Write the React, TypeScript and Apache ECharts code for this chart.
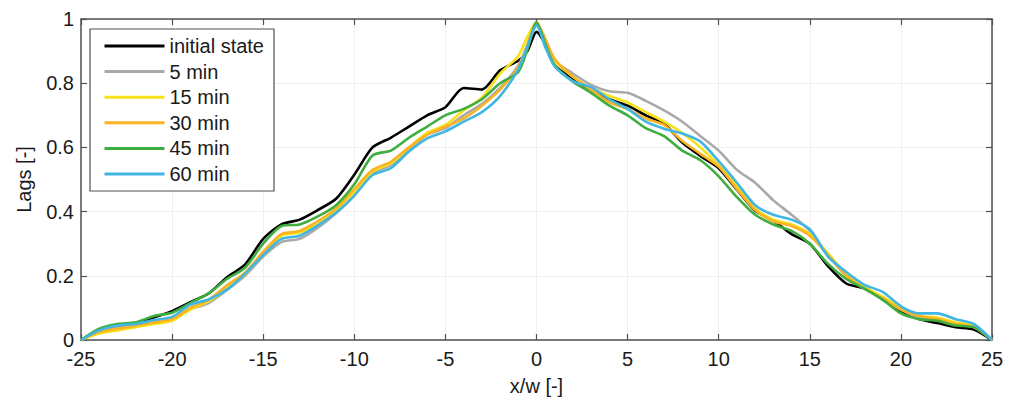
import React, { useEffect, useRef } from "react";
import * as echarts from "echarts";

const xValues = [
  -25, -24, -23, -22, -21, -20, -19, -18, -17, -16, -15, -14, -13, -12, -11, -10, -9, -8, -7, -6, -5, -4, -3, -2, -1,
  -0.5, 0, 0.5,
  1, 2, 3, 4, 5, 6, 7, 8, 9, 10, 11, 12, 13, 14, 15, 16, 17, 18, 19, 20, 21, 22, 23, 24, 25,
];

const initialState = [
  0, 0.03, 0.045, 0.05, 0.07, 0.09, 0.118, 0.145, 0.195, 0.235, 0.315, 0.36, 0.375, 0.405, 0.44, 0.515, 0.6, 0.63, 0.665, 0.7, 0.725, 0.785, 0.78, 0.84, 0.87,
  0.9, 0.96, 0.92,
  0.855, 0.815, 0.78, 0.75, 0.73, 0.7, 0.674, 0.615, 0.573, 0.535, 0.468, 0.403, 0.372, 0.33, 0.3, 0.23, 0.176, 0.16, 0.126, 0.09, 0.065, 0.053, 0.04, 0.033, 0,
];
const min5 = [
  0, 0.025, 0.04, 0.045, 0.055, 0.065, 0.095, 0.115, 0.155, 0.2, 0.26, 0.305, 0.315, 0.35, 0.395, 0.45, 0.52, 0.545, 0.595, 0.64, 0.66, 0.7, 0.735, 0.785, 0.855,
  0.92, 0.99, 0.935,
  0.87, 0.83, 0.795, 0.775, 0.77, 0.745, 0.715, 0.68, 0.635, 0.59, 0.53, 0.49, 0.435, 0.39, 0.34, 0.265, 0.2, 0.16, 0.13, 0.095, 0.07, 0.065, 0.05, 0.04, 0,
];
const min15 = [
  0, 0.02, 0.03, 0.04, 0.05, 0.06, 0.095, 0.12, 0.16, 0.205, 0.27, 0.325, 0.335, 0.36, 0.405, 0.46, 0.525, 0.55, 0.6, 0.645, 0.67, 0.715, 0.755, 0.83, 0.885,
  0.945, 0.99, 0.93,
  0.87, 0.82, 0.785, 0.76, 0.74, 0.71, 0.68, 0.645, 0.6, 0.545, 0.48, 0.41, 0.375, 0.36, 0.33, 0.27, 0.205, 0.165, 0.135, 0.1, 0.075, 0.07, 0.055, 0.045, 0,
];
const min30 = [
  0, 0.025, 0.035, 0.045, 0.055, 0.065, 0.1, 0.125, 0.17, 0.21, 0.275, 0.33, 0.34, 0.37, 0.41, 0.47, 0.53, 0.555, 0.6, 0.64, 0.665, 0.69, 0.73, 0.78, 0.85,
  0.92, 0.99, 0.935,
  0.875, 0.82, 0.78, 0.74, 0.72, 0.69, 0.67, 0.62, 0.58, 0.54, 0.47, 0.405, 0.37, 0.355, 0.325, 0.265, 0.2, 0.16, 0.13, 0.095, 0.075, 0.065, 0.05, 0.04, 0,
];
const min45 = [
  0, 0.035, 0.05, 0.055, 0.075, 0.085, 0.115, 0.145, 0.19, 0.225, 0.3, 0.355, 0.36, 0.385, 0.42, 0.485, 0.575, 0.59, 0.63, 0.665, 0.7, 0.72, 0.75, 0.8, 0.835,
  0.905, 0.99, 0.92,
  0.855, 0.805, 0.77, 0.73, 0.7, 0.66, 0.635, 0.59, 0.56, 0.51, 0.445, 0.39, 0.36, 0.34, 0.3, 0.237, 0.19, 0.16, 0.126, 0.083, 0.065, 0.06, 0.045, 0.04, 0,
];
const min60 = [
  0, 0.03, 0.045, 0.05, 0.062, 0.072, 0.11, 0.126, 0.157, 0.206, 0.265, 0.315, 0.325, 0.357, 0.397, 0.45, 0.514, 0.535, 0.587, 0.628, 0.65, 0.68, 0.71, 0.76, 0.843,
  0.914, 0.98, 0.91,
  0.852, 0.806, 0.788, 0.75, 0.72, 0.68, 0.658, 0.643, 0.618, 0.557, 0.49, 0.42, 0.39, 0.375, 0.345, 0.26, 0.212, 0.172, 0.15, 0.105, 0.083, 0.083, 0.065, 0.05, 0,
];

const seriesNames = ["initial state", "5 min", "15 min", "30 min", "45 min", "60 min"];
const seriesValues = [initialState, min5, min15, min30, min45, min60];
const seriesColors = ["#000000", "#a9a9a9", "#f7e11a", "#fbb323", "#3fae3f", "#41b6e2"];

const FONT = "'Liberation Sans', Arial, sans-serif";
const AXIS_COLOR = "#505050";
const TEXT_COLOR = "#1a1a1a";

export default function App() {
  const ref = useRef<HTMLDivElement>(null);

  useEffect(() => {
    if (!ref.current) return;
    const chart = echarts.init(ref.current, undefined, { renderer: "svg" });

    const series = seriesNames.map((name, i) => ({
      name,
      type: "line",
      xAxisIndex: 0,
      yAxisIndex: 0,
      data: xValues.map((x, k) => [x, seriesValues[i][k]]),
      symbol: "none",
      smooth: 0.25,
      lineStyle: { color: seriesColors[i], width: 2.6 },
      itemStyle: { color: seriesColors[i] },
      z: 3 + i,
    }));

    chart.setOption({
      animation: false,
      backgroundColor: "#ffffff",
      textStyle: { fontFamily: FONT },
      grid: { left: 81, right: 18, top: 19, bottom: 57 },
      legend: {
        data: seriesNames,
        orient: "vertical",
        left: 90,
        top: 29,
        padding: [7, 10, 7, 13],
        itemWidth: 60,
        itemHeight: 14,
        itemGap: 5.6,
        borderColor: AXIS_COLOR,
        borderWidth: 1.2,
        backgroundColor: "#ffffff",
        itemStyle: { opacity: 0 },
        lineStyle: { width: 3 },
        textStyle: { fontSize: 20, color: TEXT_COLOR, fontFamily: FONT },
      },
      xAxis: [
        {
          type: "value",
          min: -25,
          max: 25,
          interval: 5,
          name: "x/w [-]",
          nameLocation: "middle",
          nameGap: 36,
          nameTextStyle: { fontSize: 20, color: TEXT_COLOR, fontFamily: FONT },
          axisLine: { show: true, onZero: false, lineStyle: { color: AXIS_COLOR, width: 1.5 } },
          axisTick: { show: true, inside: true, length: 6, lineStyle: { color: AXIS_COLOR, width: 1.2 } },
          axisLabel: { fontSize: 20, color: TEXT_COLOR, margin: 9, fontFamily: FONT },
          splitLine: { show: true, lineStyle: { color: "#efefef", width: 1 } },
        },
        {
          type: "value",
          position: "top",
          min: -25,
          max: 25,
          interval: 5,
          axisLine: { show: true, onZero: false, lineStyle: { color: AXIS_COLOR, width: 1.5 } },
          axisTick: { show: true, inside: true, length: 6, lineStyle: { color: AXIS_COLOR, width: 1.2 } },
          axisLabel: { show: false },
          splitLine: { show: false },
        },
      ],
      yAxis: [
        {
          type: "value",
          min: 0,
          max: 1,
          interval: 0.2,
          name: "Lags [-]",
          nameLocation: "middle",
          nameGap: 47,
          nameTextStyle: { fontSize: 20, color: TEXT_COLOR, fontFamily: FONT },
          axisLine: { show: true, onZero: false, lineStyle: { color: AXIS_COLOR, width: 1.5 } },
          axisTick: { show: true, inside: true, length: 6, lineStyle: { color: AXIS_COLOR, width: 1.2 } },
          axisLabel: { fontSize: 20, color: TEXT_COLOR, margin: 7, fontFamily: FONT },
          splitLine: { show: true, lineStyle: { color: "#efefef", width: 1 } },
        },
        {
          type: "value",
          position: "right",
          min: 0,
          max: 1,
          interval: 0.2,
          axisLine: { show: true, onZero: false, lineStyle: { color: AXIS_COLOR, width: 1.5 } },
          axisTick: { show: true, inside: true, length: 6, lineStyle: { color: AXIS_COLOR, width: 1.2 } },
          axisLabel: { show: false },
          splitLine: { show: false },
        },
      ],
      series,
    });

    return () => chart.dispose();
  }, []);

  return <div ref={ref} style={{ width: 1010, height: 401, position: "absolute", left: 0, top: 0 }} />;
}
